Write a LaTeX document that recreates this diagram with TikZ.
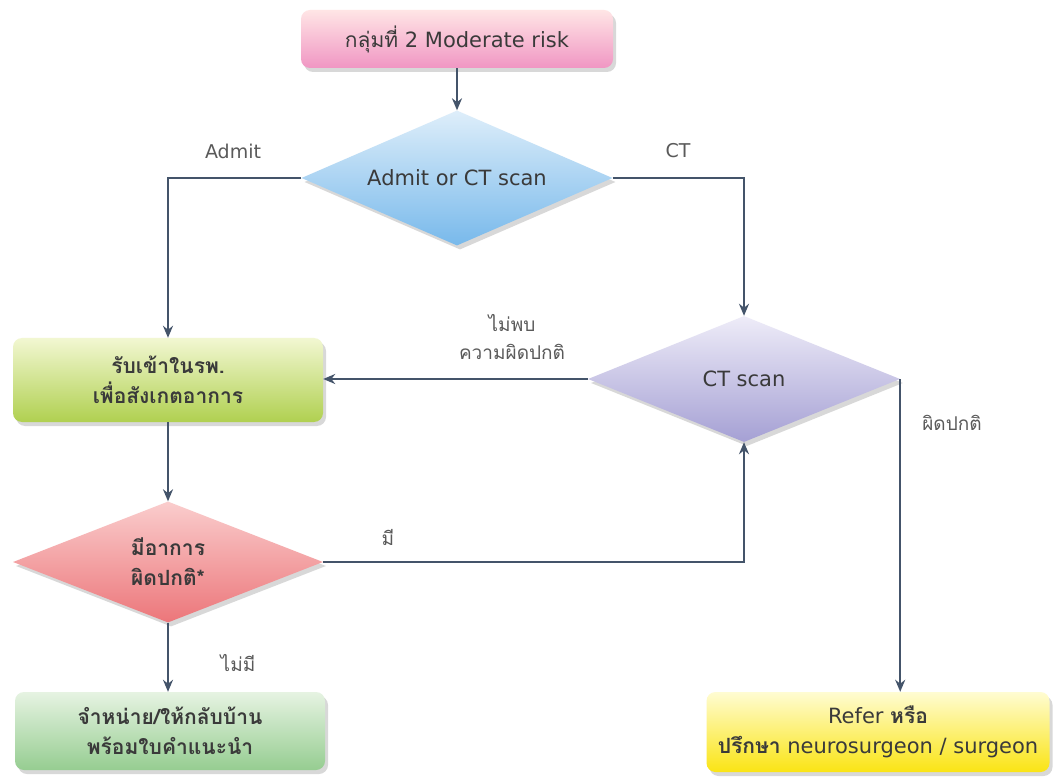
\documentclass[tikz,border=0pt]{standalone}
\usepackage{fontspec}
\setmainfont{DejaVu Sans}
\newfontfamily\thai[Script=Thai]{Loma}
\usetikzlibrary{shapes.geometric,shadows,arrows.meta}
\definecolor{linec}{HTML}{44546A}
\definecolor{txtc}{HTML}{3A3A3A}
\definecolor{lblc}{HTML}{5A5A5A}
\tikzset{
  x=1pt,y=-1pt,
  base/.style={inner sep=0pt, text=txtc, align=center,
    font=\fontsize{21}{30}\selectfont,
    drop shadow={opacity=0.3, shadow xshift=3pt, shadow yshift=-4pt}},
  boxn/.style={base, rectangle, rounded corners=9pt},
  dia/.style={base, diamond, aspect=2.4},
  lbl/.style={text=lblc, font=\fontsize{19}{28}\selectfont, align=center, inner sep=0pt},
  arr/.style={draw=linec, line width=2pt, -{Stealth[length=12pt,width=10pt]}},
}
\begin{document}
\begin{tikzpicture}
\useasboundingbox[fill=white] (0,0) rectangle (1057,783);
% nodes
\node[boxn, minimum width=312pt, minimum height=58pt, top color=pink!40!white, bottom color={rgb,255:red,240;green,150;blue,195}] (top) at (457,39) {{\thai กลุ่มที่} 2 Moderate risk};
\node[dia, aspect=2.3, minimum width=311pt, minimum height=135pt, top color={rgb,255:red,222;green,238;blue,250}, bottom color={rgb,255:red,120;green,185;blue,235}] (q1) at (457,178) {Admit or CT scan};
\node[boxn, minimum width=310pt, minimum height=84pt, top color={rgb,255:red,242;green,247;blue,210}, bottom color={rgb,255:red,176;green,208;blue,80}] (adm) at (168,380) {\bfseries\thai รับเข้าในรพ.\\ \bfseries\thai เพื่อสังเกตอาการ};
\node[dia, aspect=2.48, minimum width=312pt, minimum height=126pt, top color={rgb,255:red,238;green,236;blue,248}, bottom color={rgb,255:red,165;green,160;blue,212}] (ct) at (744,379) {CT scan};
\node[dia, aspect=2.56, minimum width=310pt, minimum height=121pt, top color={rgb,255:red,250;green,205;blue,205}, bottom color={rgb,255:red,236;green,118;blue,122}] (sym) at (168,562) {\bfseries\thai มีอาการ\\ \bfseries\thai ผิดปกติ*};
\node[boxn, minimum width=310pt, minimum height=78pt, top color={rgb,255:red,230;green,243;blue,226}, bottom color={rgb,255:red,150;green,205;blue,145}] (home) at (170,731) {\bfseries\thai จำหน่าย/ให้กลับบ้าน\\ \bfseries\thai พร้อมใบคำแนะนำ};
\node[boxn, minimum width=343pt, minimum height=80pt, top color={rgb,255:red,255;green,252;blue,210}, bottom color={rgb,255:red,250;green,228;blue,20}] (ref) at (878,732) {Refer {\bfseries\thai หรือ}\\ {\bfseries\thai ปรึกษา} neurosurgeon / surgeon};
% connectors
\draw[arr] (top) -- (q1);
\draw[arr] (q1.west) -| (adm.north);
\draw[arr] (q1.east) -| (ct.north);
\draw[arr] (ct.west) -- (ct.west -| adm.east);
\draw[arr] (ct.east) -- (ct.east |- ref.north);
\draw[arr] (adm) -- (sym);
\draw[arr] (sym.east) -| (ct.south);
\draw[arr] (sym.south) -- (sym.south |- home.north);
% labels
\node[lbl] (lAdmit) at (233,151) {Admit};
\node[lbl] (lCT) at (678,151) {CT};
\node[lbl] (lNo) at (512,337) {\thai ไม่พบ\\ \thai ความผิดปกติ};
\node[lbl] (lAb) at (952,423) {\thai ผิดปกติ};
\node[lbl] (lYes) at (388,537) {\thai มี};
\node[lbl] (lNone) at (238,663) {\thai ไม่มี};
\end{tikzpicture}
\end{document}
